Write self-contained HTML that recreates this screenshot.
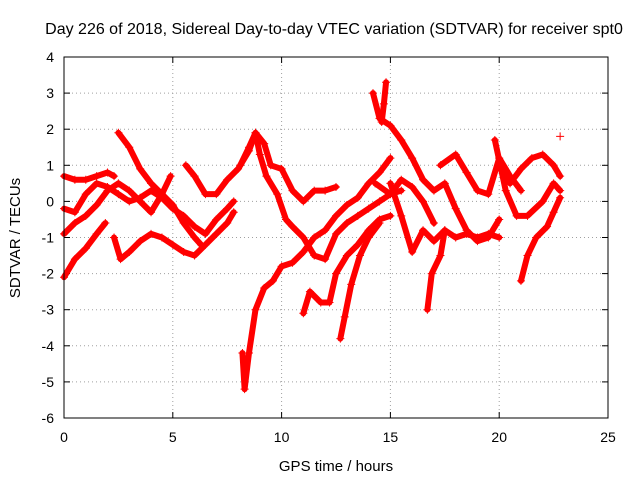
<!DOCTYPE html>
<html><head><meta charset="utf-8">
<style>
html,body{margin:0;padding:0;background:#fff;}
svg{display:block;font-family:"Liberation Sans",sans-serif;}
</style></head>
<body>
<svg id="chart" width="640" height="480" viewBox="0 0 640 480">
<text x="334" y="34" font-size="16" text-anchor="middle" fill="#000">Day 226 of 2018, Sidereal Day-to-day VTEC variation (SDTVAR) for receiver spt0</text>
<text x="336" y="471" font-size="15" text-anchor="middle">GPS time / hours</text>
<text transform="translate(20,238) rotate(-90)" font-size="15" text-anchor="middle">SDTVAR / TECUs</text>
<g id="grid"></g>
<g id="ticks"></g>
<g id="series"></g>
<rect x="64" y="57" width="544" height="361" fill="none" stroke="#000" stroke-width="1"/>
</svg>
<script>
const xTicks=[0,5,10,15,20,25];
const yTicks=[-6,-5,-4,-3,-2,-1,0,1,2,3,4];
const track1=[[0,-0.2],[0.5,-0.3],[1,0.2],[1.5,0.5],[2,0.4],[2.5,0.2],[3,0.0],[3.5,0.1],[4,0.3],[4.5,0.1],[5,-0.2],[5.5,-0.4],[6,-0.7],[6.5,-0.9],[7,-0.5],[7.5,-0.2],[7.8,0.0]];
const track2=[[0,-0.9],[0.5,-0.6],[1,-0.4],[1.5,-0.1],[2,0.3],[2.5,0.5],[3,0.3],[3.5,0.0],[4,-0.3],[4.5,0.2],[4.9,0.7]];
const track3=[[0,-2.1],[0.5,-1.6],[1,-1.3],[1.5,-0.9],[1.9,-0.6]];
const track4=[[0,0.7],[0.5,0.6],[1,0.6],[1.5,0.7],[2,0.8],[2.3,0.7]];
const track5=[[2.5,1.9],[3,1.5],[3.5,0.9],[4,0.5],[4.5,0.2],[5,-0.1],[5.5,-0.6],[6,-1.0],[6.3,-1.2]];
const track6=[[2.3,-1.0],[2.6,-1.6],[3,-1.4],[3.5,-1.1],[4,-0.9],[4.5,-1.0],[5,-1.2],[5.5,-1.4],[6,-1.5],[6.5,-1.2],[7,-0.9],[7.5,-0.6],[7.8,-0.3]];
const track7=[[5.6,1.0],[6,0.7],[6.5,0.2],[7,0.2],[7.5,0.6],[8,0.9],[8.5,1.4],[8.8,1.9],[9.2,1.6],[9.5,1.0],[10,0.9],[10.5,0.3],[11,0.0],[11.5,0.3],[12,0.3],[12.5,0.4]];
const track8=[[8.2,-4.2],[8.3,-5.2],[8.5,-4.2],[8.8,-3.0],[9.2,-2.4],[9.6,-2.2],[10,-1.8],[10.5,-1.7],[11,-1.4],[11.5,-1.0],[12,-0.8],[12.5,-0.4],[13,-0.1],[13.5,0.1],[14,0.5],[14.5,0.8],[15,1.2]];
const track9=[[8.1,1.0],[8.5,1.5],[8.8,1.9],[9,1.3],[9.3,0.7],[9.8,0.2],[10.2,-0.5],[10.5,-0.7],[11,-1.0],[11.5,-1.5],[12,-1.6],[12.5,-0.9],[13,-0.6],[13.5,-0.4],[14,-0.2],[14.5,0.0],[15,0.2],[15.5,0.3]];
const track10=[[11,-3.1],[11.3,-2.5],[11.8,-2.8],[12.2,-2.8],[12.5,-2.0],[13,-1.5],[13.5,-1.2],[14,-0.8],[14.5,-0.5],[15,-0.4]];
const track11=[[12.7,-3.8],[12.9,-3.2],[13.2,-2.3],[13.6,-1.5],[14,-1.0],[14.5,-0.6]];
const track12=[[14.2,3.0],[14.5,2.3],[15,2.1],[15.5,1.7],[16,1.2],[16.5,0.6],[17,0.3],[17.5,0.5],[18,-0.2],[18.5,-0.8],[19,-1.1],[19.5,-1.0],[20,-0.5]];
const track13=[[14.8,3.3],[14.7,2.7],[14.6,2.2]];
const track14=[[15,0.5],[15.5,-0.4],[16,-1.4],[16.5,-0.8],[17,-1.1],[17.5,-0.8],[18,-1.0],[18.5,-0.9],[19,-1.0],[19.5,-0.9],[20,-1.0]];
const track15=[[16.7,-3.0],[16.9,-2.0],[17.3,-1.5],[17.5,-0.8]];
const track16=[[14.3,0.5],[15,0.2],[15.5,0.6],[16,0.4],[16.5,0.0],[17,-0.6]];
const track17=[[17.3,1.0],[18,1.3],[18.5,0.8],[19,0.3],[19.5,0.2],[20,1.2],[20.5,0.7],[21,0.3]];
const track18=[[20,1.0],[20.5,0.5],[21,0.9],[21.5,1.2],[22,1.3],[22.5,1.0],[22.8,0.7]];
const track19=[[21,-2.2],[21.3,-1.5],[21.7,-1.0],[22.2,-0.7],[22.5,-0.3],[22.8,0.1]];
const track20=[[19.8,1.7],[20.3,0.3],[20.8,-0.4],[21.3,-0.4],[22,0.0],[22.5,0.5],[22.8,0.3]];
const track21=[[22.8,1.8]];
const tracks=[track1,track2,track3,track4,track5,track6,track7,track8,track9,track10,track11,track12,track13,track14,track15,track16,track17,track18,track19,track20,track21];

const NS="http://www.w3.org/2000/svg";
const X0=64,X1=608,Y0=418,Y1=57;
const xs=t=>X0+(t-0)/(25-0)*(X1-X0);
const ys=v=>Y0-(v-(-6))/(4-(-6))*(Y0-Y1);
function mk(tag,attrs,parent){const e=document.createElementNS(NS,tag);for(const k in attrs)e.setAttribute(k,attrs[k]);parent.appendChild(e);return e;}
const grid=document.getElementById('grid'),ticks=document.getElementById('ticks'),series=document.getElementById('series');
xTicks.forEach(t=>{const x=xs(t);
 if(t>0&&t<25){const g=mk('line',{x1:x,x2:x,y1:Y0,y2:Y1,stroke:'#a0a0a0','stroke-dasharray':'1,3'},grid);}
 mk('line',{x1:x,x2:x,y1:Y0,y2:Y0-6,stroke:'#000'},ticks);mk('line',{x1:x,x2:x,y1:Y1,y2:Y1+6,stroke:'#000'},ticks);
 const l=mk('text',{x:x,y:Y0+24,'font-size':'14','text-anchor':'middle'},ticks);l.textContent=t;
 });
yTicks.forEach(v=>{const y=ys(v);
 if(v>-6&&v<4){const g=mk('line',{x1:X0,x2:X1,y1:y,y2:y,stroke:'#a0a0a0','stroke-dasharray':'1,3'},grid);}
 mk('line',{x1:X0,x2:X0+6,y1:y,y2:y,stroke:'#000'},ticks);mk('line',{x1:X1,x2:X1-6,y1:y,y2:y,stroke:'#000'},ticks);
 const l=mk('text',{x:X0-10,y:y+5,'font-size':'14','text-anchor':'end'},ticks);l.textContent=v;
 });
tracks.forEach(tr=>{
 if(tr.length>1){const p=mk('polyline',{points:tr.map(d=>xs(d[0])+','+ys(d[1])).join(' '),fill:'none',stroke:'#f00','stroke-width':'6','stroke-linejoin':'round','stroke-linecap':'round'},series);
  }
 tr.forEach(d=>{const x=xs(d[0]),y=ys(d[1]);
  const m=mk('path',{d:`M${x-4},${y}H${x+4}M${x},${y-4}V${y+4}`,stroke:'#f00','stroke-width':'1'},series);
  });
});
</script>
</body></html>
